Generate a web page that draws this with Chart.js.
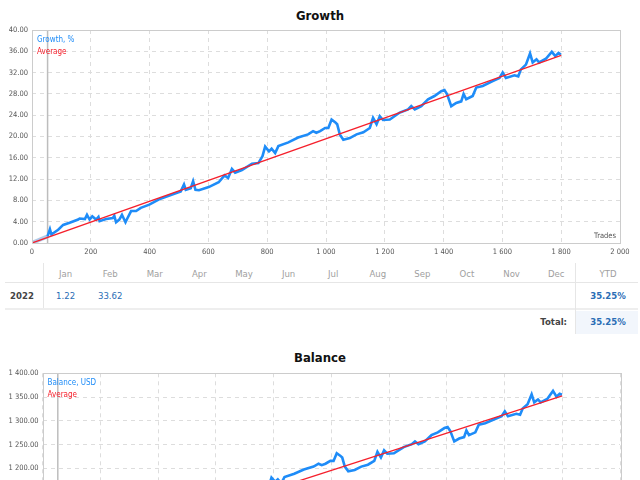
<!DOCTYPE html>
<html>
<head>
<meta charset="utf-8">
<script src="https://cdn.jsdelivr.net/npm/chart.js@4.4.0/dist/chart.umd.min.js"></script>
<style>
  body { margin: 0; width: 640px; height: 620px; position: relative; background: #fff;
         font-family: "DejaVu Sans Condensed", "DejaVu Sans", sans-serif; overflow: hidden; }
  .title { position: absolute; left: 0; width: 640px; text-align: center; font-weight: bold;
           font-size: 13px; line-height: 18px; color: #111; }
  .cell { position: absolute; width: 44px; text-align: center; font-size: 9.5px; line-height: 12px; }
  .hline { position: absolute; background: #e6e6e6; }
  .vline { position: absolute; background: #e6e6e6; width: 1px; }
  canvas { position: absolute; left: 0; }
</style>
</head>
<body>
<div class="title" style="top:7px">Growth</div>
<canvas id="growthChart" width="640" height="262" style="top:0"></canvas>
<div id="table"></div>
<div class="title" style="top:349px">Balance</div>
<canvas id="balanceChart" width="640" height="260" style="top:345px"></canvas>

<script>
// valores (trades no eixo x)
const trades = [53,61,66,89,106,128,157,162,180,187,
  196,205,218,226,230,252,275,280,286,297,
  306,318,325,337,354,370,399,432,477,506,
  517,523,540,548,556,568,601,635,655,667,
  680,691,714,748,770,784,793,806,815,827,
  838,872,905,939,956,967,980,997,1008,1019,
  1031,1038,1047,1059,1081,1104,1127,1149,1160,1172,
  1183,1194,1217,1251,1279,1290,1302,1324,1347,1369,
  1392,1403,1412,1426,1443,1460,1468,1477,1499,1511,
  1533,1567,1590,1601,1612,1641,1654,1663,1680,1694,
  1703,1716,1725,1748,1768,1780,1791,1799];

const growthValues = [1.25,2.6,1.6,2.5,3.4,3.8,4.4,4.6,4.5,5.3,
  4.4,5.0,4.4,4.9,4.1,4.5,4.7,5.1,3.9,4.4,
  5.3,3.9,4.7,6.0,6.0,6.6,7.2,8.2,9.1,9.7,
  11.0,10.0,10.3,11.6,10.0,9.9,10.5,11.4,12.7,12.2,
  13.9,13.2,13.7,14.9,15.0,16.3,18.1,17.2,17.7,16.9,
  18.2,18.9,19.8,20.4,21.0,20.7,21.0,21.6,21.6,23.2,
  22.7,22.3,20.4,19.4,19.7,20.4,20.8,21.6,23.5,22.3,
  23.8,23.1,23.2,24.5,25.1,25.7,25.1,25.7,27.0,27.6,
  28.5,28.7,27.9,25.7,26.3,26.6,28.0,27.0,27.6,29.2,
  29.5,30.4,31.0,32.0,31.0,31.5,31.3,32.6,33.5,35.6,
  33.9,34.5,33.9,34.6,35.9,35.1,35.7,35.4];

const balanceValues = [1012,1026,1016,1025,1034,1038,1044,1046,1045,1053,
  1044,1050,1044,1049,1041,1045,1047,1051,1039,1044,
  1053,1039,1047,1060,1060,1066,1072,1082,1091,1097,
  1110,1100,1103,1116,1100,1099,1105,1114,1127,1122,
  1139,1132,1137,1149,1150,1163,1181,1172,1177,1169,
  1182,1189,1198,1204,1210,1207,1210,1216,1216,1232,
  1227,1223,1204,1194,1197,1204,1208,1216,1235,1223,
  1238,1231,1232,1245,1251,1257,1251,1257,1270,1276,
  1285,1287,1279,1257,1263,1266,1280,1270,1276,1292,
  1295,1304,1310,1320,1310,1315,1313,1326,1335,1356,
  1339,1345,1339,1346,1363,1351,1357,1355];

const startTrade = 53;          // linha vertical cinza (início)
const lastTrade = 1800;
const growthAverage = [0, 35.25];        // início / fim da média
const balanceAverage = [1000, 1352.5];
const growthStart = [0, 1.25];
const balanceStart = [1000, 1012];

const growthLegend = ['Growth, %', 'Average'];
const balanceLegend = ['Balance, USD', 'Average'];

const months = ['Jan','Feb','Mar','Apr','May','Jun','Jul','Aug','Sep','Oct','Nov','Dec'];
const yearLabel = '2022';
const monthlyGrowth = [1.22, 33.62, null, null, null, null, null, null, null, null, null, null];
const ytdValue = '35.25%';
const totalValue = '35.25%';

const BLUE = '#1e8cf8';
const RED = '#f5202c';

function spaced(v, dec) {
  const s = Number(v).toFixed(dec);
  const parts = s.split('.');
  parts[0] = parts[0].replace(/\B(?=(\d{3})+(?!\d))/g, ' ');
  return parts.join('.');
}

const overlayText = {
  id: 'overlayText',
  afterDraw(chart, args, opts) {
    const { ctx, chartArea } = chart;
    ctx.save();
    // moldura do plot
    ctx.strokeStyle = '#cccccc';
    ctx.lineWidth = 1;
    ctx.strokeRect(Math.round(chartArea.left) + 0.5, Math.round(chartArea.top) + 0.5,
      Math.round(chartArea.right - chartArea.left), Math.round(chartArea.bottom - chartArea.top));
    ctx.font = '8px "DejaVu Sans Condensed", "DejaVu Sans", sans-serif';
    ctx.textBaseline = 'middle';
    ctx.textAlign = 'left';
    ctx.fillStyle = BLUE;
    ctx.fillText(opts.labels[0], chartArea.left + 5, chartArea.top + 9.5);
    ctx.fillStyle = RED;
    ctx.fillText(opts.labels[1], chartArea.left + 5, chartArea.top + 21.5);
    ctx.font = '7.5px "DejaVu Sans Condensed", "DejaVu Sans", sans-serif';
    ctx.fillStyle = '#555';
    ctx.textAlign = 'right';
    ctx.fillText('Trades', chartArea.right - 4, chartArea.bottom - 7);
    ctx.restore();
  }
};

function buildChart(id, values, avg, start, legend, yMin, yMax, yStep, yWidth, xHeight, padTop) {
  const line = values.map((v, i) => ({ x: trades[i], y: v }));
  const tickFont = { family: '"DejaVu Sans Condensed", "DejaVu Sans", sans-serif', size: 7.5 };
  return new Chart(document.getElementById(id), {
    type: 'line',
    data: {
      datasets: [
        { data: [{ x: 0, y: avg[0] }, { x: lastTrade, y: avg[1] }], borderColor: RED, borderWidth: 1.3 },
        { data: line, borderColor: BLUE, borderWidth: 2.6 },
        { data: [{ x: 0, y: start[0] }, { x: startTrade, y: start[1] }], borderColor: 'rgba(150,185,225,0.75)', borderWidth: 4 },
        { data: [{ x: startTrade, y: yMin }, { x: startTrade, y: yMax }], borderColor: '#bdbdbd', borderWidth: 1.5 }
      ]
    },
    options: {
      responsive: false,
      animation: false,
      events: [],
      layout: { padding: { top: padTop, right: 20, left: 0, bottom: 0 } },
      elements: { point: { radius: 0 }, line: { tension: 0 } },
      plugins: { legend: { display: false }, tooltip: { enabled: false }, overlayText: { labels: legend } },
      scales: {
        x: {
          type: 'linear', min: 0, max: 2000,
          afterFit: s => { s.height = xHeight; },
          ticks: { stepSize: 200, padding: 5, color: '#555', font: tickFont, maxRotation: 0,
                   callback: v => spaced(v, 0) },
          grid: { color: '#dddddd', drawTicks: false },
          border: { display: false, dash: [4, 4] }
        },
        y: {
          min: yMin, max: yMax,
          afterFit: s => { s.width = yWidth; },
          ticks: { stepSize: yStep, padding: 4, color: '#555', font: tickFont,
                   callback: v => spaced(v, 2) },
          grid: { color: '#dddddd', drawTicks: false },
          border: { display: false, dash: [4, 4] }
        }
      }
    },
    plugins: [overlayText]
  });
}

buildChart('growthChart', growthValues, growthAverage, growthStart, growthLegend, 0, 40, 4, 32, 19, 30);
buildChart('balanceChart', balanceValues, balanceAverage, balanceStart, balanceLegend, 950, 1400, 50, 42.5, 17.5, 28.3);

// tabela mensal
(function renderTable() {
  const t = document.getElementById('table');
  const x0 = 65.6, step = 44.6;
  let html = '';
  const cell = (cx, top, text, style) =>
    `<div class="cell" style="left:${cx - 22}px;top:${top}px;${style}">${text}</div>`;
  months.forEach((m, i) => { html += cell(x0 + i * step, 268, m, 'color:#a0a0a0'); });
  html += cell(608, 268, 'YTD', 'color:#a0a0a0');
  html += cell(22, 289.5, yearLabel, 'color:#444;font-weight:bold');
  monthlyGrowth.forEach((v, i) => {
    if (v != null) html += cell(x0 + i * step, 289.5, v.toFixed(2), 'color:#2a6db5');
  });
  html += cell(608, 289.5, ytdValue, 'color:#2a6db5;font-weight:bold');
  html += '<div style="position:absolute;left:575px;top:311px;width:63px;height:23px;background:#f2f6fc"></div>';
  html += `<div class="cell" style="left:500px;width:67px;text-align:right;top:316px;color:#444;font-weight:bold">Total:</div>`;
  html += cell(608, 316, totalValue, 'color:#2a6db5;font-weight:bold');
  html += '<div class="hline" style="left:5px;top:282px;width:633px;height:1px"></div>';
  html += '<div class="hline" style="left:5px;top:308px;width:633px;height:2px;background:#eeeeee"></div>';
  html += '<div class="vline" style="left:43px;top:263px;height:45px"></div>';
  html += '<div class="vline" style="left:575px;top:263px;height:71px"></div>';
  t.innerHTML = html;
})();
</script>
</body>
</html>
